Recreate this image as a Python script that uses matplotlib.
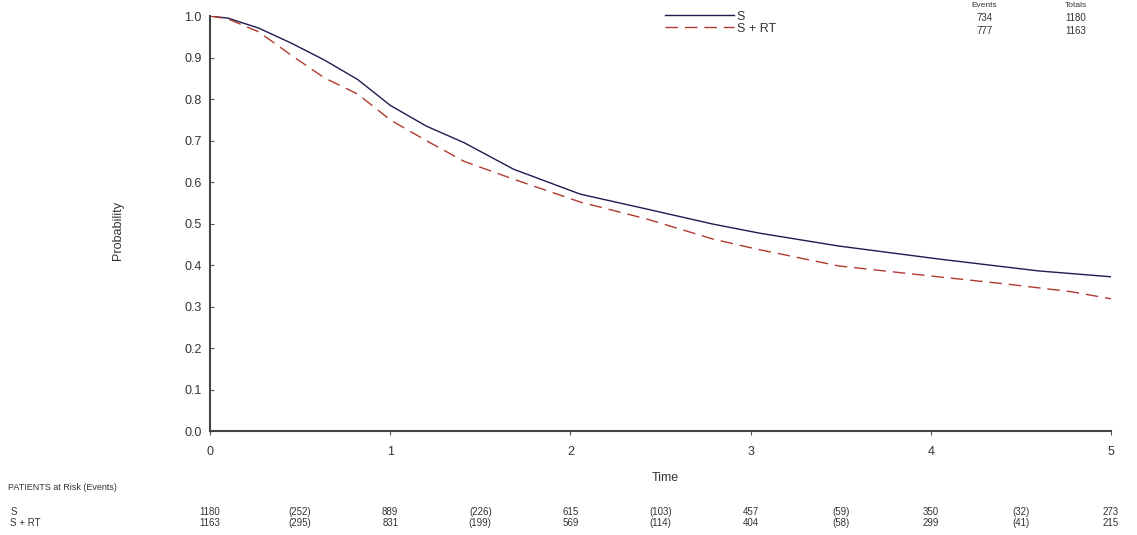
import matplotlib.pyplot as plt
import matplotlib.transforms as mtransforms

plt.rcParams['font.family'] = ['Liberation Sans', 'DejaVu Sans']

# survival curves
t_s = [0, 0.1, 0.27, 0.45, 0.635, 0.82, 1.0, 1.2, 1.41, 1.685, 2.055, 2.425, 2.79, 3.05, 3.49, 4.04, 4.6, 5.0]
p_s = [1.0, 0.995, 0.971, 0.935, 0.894, 0.847, 0.785, 0.735, 0.695, 0.631, 0.571, 0.535, 0.499, 0.477, 0.446, 0.415, 0.386, 0.372]

t_rt = [0, 0.1, 0.27, 0.45, 0.635, 0.82, 1.0, 1.2, 1.41, 1.685, 2.055, 2.425, 2.79, 3.03, 3.49, 4.04, 4.41, 4.78, 5.0]
p_rt = [1.0, 0.993, 0.962, 0.906, 0.851, 0.812, 0.75, 0.70, 0.650, 0.607, 0.552, 0.511, 0.463, 0.439, 0.398, 0.372, 0.355, 0.336, 0.319]

groups = ['S', 'S + RT']
events = [734, 777]
totals = [1180, 1163]

risk_t = [0, 0.5, 1, 1.5, 2, 2.5, 3, 3.5, 4, 4.5, 5]
risk_s = ['1180', '(252)', '889', '(226)', '615', '(103)', '457', '(59)', '350', '(32)', '273']
risk_rt = ['1163', '(295)', '831', '(199)', '569', '(114)', '404', '(58)', '299', '(41)', '215']

fig = plt.figure(figsize=(11.37, 5.35), dpi=100)
ax = fig.add_axes([0.1847, 0.194, 0.7924, 0.776])

ax.plot(t_s, p_s, color='#1c1c50', lw=1.0, label='S')
ax.plot(t_rt, p_rt, color='#b03a30', lw=1.0, dashes=(9, 5), label='S + RT')

ax.set_xlim(0, 5)
ax.set_ylim(0, 1.0)
ax.set_xticks(range(0, 6))
ax.set_yticks([i / 10 for i in range(11)])
ax.set_yticklabels(['%.1f' % (i / 10) for i in range(11)])
ax.tick_params(axis='both', labelsize=9, colors='#555555', labelcolor='#333333', length=3)
ax.tick_params(axis='x', pad=8)
ax.tick_params(axis='y', direction='in', pad=6)
for side in ['top', 'right']:
    ax.spines[side].set_visible(False)
for side in ['left', 'bottom']:
    ax.spines[side].set_color('#444444')
    ax.spines[side].set_linewidth(1.5)

fig.text(0.104, 0.57, 'Probability', rotation=90, fontsize=9, color='#333333',
         ha='center', va='center', family=['Liberation Sans Narrow', 'Liberation Sans'])
fig.text(0.585, 0.107, 'Time', fontsize=9, color='#333333', ha='center', va='center')

# legend placed like the original
leg = ax.legend(loc='upper left', bbox_to_anchor=(0.5, 1.025), frameon=False, fontsize=9,
                handlelength=5.5, handletextpad=0.2, labelspacing=0.0, borderaxespad=0)
for txt in leg.get_texts():
    txt.set_color('#333333')

fig.text(0.866, 0.99, 'Events', fontsize=6, color='#333333', ha='center', va='center')
fig.text(0.946, 0.99, 'Totals', fontsize=6, color='#333333', ha='center', va='center')
for i in range(2):
    y = 0.966 - i * 0.024
    fig.text(0.866, y, str(events[i]), fontsize=7, color='#333333', ha='center', va='center')
    fig.text(0.946, y, str(totals[i]), fontsize=7, color='#333333', ha='center', va='center')

# number at risk table
fig.text(0.007, 0.089, 'PATIENTS at Risk (Events)', fontsize=6.5, color='#333333', va='center')
trans = mtransforms.blended_transform_factory(ax.transData, fig.transFigure)
rows = [risk_s, risk_rt]
for i, row in enumerate(rows):
    y = 0.043 - i * 0.021
    fig.text(0.009, y, groups[i], fontsize=7, color='#333333', va='center')
    for t, v in zip(risk_t, row):
        ax.text(t, y, v, transform=trans, fontsize=7, color='#333333', ha='center', va='center')

fig.savefig('out.png', dpi=100)
